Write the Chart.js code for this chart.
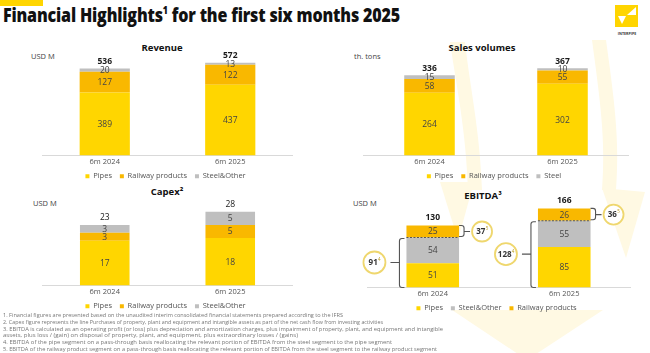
<!DOCTYPE html>
<html><head><meta charset="utf-8">
<script src="https://cdn.jsdelivr.net/npm/chart.js@4.4.1/dist/chart.umd.min.js"></script>
<style>
html,body{margin:0;padding:0;background:#fff;}
body{width:650px;height:353px;position:relative;overflow:hidden;font-family:"Open Sans","Noto Sans",sans-serif;color:#222;}
.abs{position:absolute;white-space:nowrap;}
.c{transform:translate(-50%,-50%);}
.ctitle{font-weight:700;font-size:9.5px;color:#111;}
.unit{font-size:7.5px;color:#444;}
.fn{position:absolute;left:3px;font-size:5.2px;color:#777;white-space:nowrap;transform-origin:0 0;line-height:6px;}
canvas{position:absolute;}
</style></head>
<body>
<svg class="abs" style="left:0;top:0" width="650" height="353">
  <g fill="#FFF9E3">
    <path d="M450,42 C457,90 466,130 468,190 L482,190 C480,130 470,88 465,42 Z"/>
    <path d="M592,40 C600,100 606,140 602,190 L616,190 C620,140 614,98 606,40 Z"/>
    <path d="M440,182 L474,182 L458,240 Z"/>
    <path d="M602,188 L645,192 L626,258 Z"/>
    <path d="M452,310 L603,310 L527,360 Z"/>
  </g>
</svg>
<div class="abs" style="left:0;top:0;width:43px;height:6px;background:#FFD500"></div>
<div id="title" class="abs" style="left:3px;top:2px;font-size:18.5px;font-weight:800;color:#111;letter-spacing:-0.2px;transform-origin:0 0;">Financial Highlights<sup style="font-size:10px;vertical-align:8px;line-height:0">1</sup> for the first six months 2025</div>
<svg class="abs" style="left:615px;top:5px" width="23" height="22">
  <rect x="0" y="0" width="23" height="22" fill="#FFD500"/>
  <path d="M3,11 L11,11 L7,19 Z" fill="#fff"/>
  <path d="M12,10 L21,2 L21,10 Z" fill="#fff"/>
</svg>
<div class="abs c" style="left:627px;top:33px;font-size:3.6px;font-weight:700;color:#333;">INTERPIPE</div>

<div class="abs c ctitle" style="left:162px;top:47px;">Revenue</div>
<div class="abs c ctitle" style="left:482px;top:47px;">Sales volumes</div>
<div class="abs c ctitle" style="left:167px;top:191px;">Capex²</div>
<div class="abs c ctitle" style="left:483px;top:195px;">EBITDA³</div>
<div class="abs unit" style="left:31px;top:51px;">USD M</div>
<div class="abs unit" style="left:354px;top:51px;">th. tons</div>
<div class="abs unit" style="left:33px;top:198px;">USD M</div>
<div class="abs unit" style="left:353px;top:198px;">USD M</div>

<canvas id="rev" width="251" height="142" style="left:42px;top:48px"></canvas>
<canvas id="vol" width="266" height="142" style="left:363px;top:48px"></canvas>
<canvas id="capex" width="251" height="124" style="left:42px;top:196px"></canvas>
<canvas id="ebitda" width="295" height="126" style="left:350px;top:196px"></canvas>

<div class="fn" style="top:312px" data-w="340">1. Financial figures are presented based on the unaudited interim consolidated financial statements prepared according to the IFRS</div>
<div class="fn" style="top:319px" data-w="380">2. Capex figure represents the line Purchases of property, plant and equipment and intangible assets as part of the net cash flow from investing activities</div>
<div class="fn" style="top:325.5px" data-w="440">3. EBITDA is calculated as an operating profit (or loss) plus depreciation and amortization charges, plus impairment of property, plant, and equipment and intangible</div>
<div class="fn" style="top:332px" data-w="295">assets, plus loss / (gain) on disposal of property, plant, and equipment, plus extraordinary losses / (gains)</div>
<div class="fn" style="top:339px" data-w="389">4. EBITDA of the pipe segment on a pass-through basis reallocating the relevant portion of EBITDA from the steel segment to the pipe segment</div>
<div class="fn" style="top:346px" data-w="434">5. EBITDA of the railway product segment on a pass-through basis reallocating the relevant portion of EBITDA from the steel segment to the railway product segment</div>

<script>
// ---- data ----
const periods = ['6m 2024', '6m 2025'];

const revenuePipes = [389, 437];
const revenueRailway = [127, 122];
const revenueSteel = [20, 13];
const revenueTotals = [536, 572];

const volumePipes = [264, 302];
const volumeRailway = [58, 55];
const volumeSteel = [15, 10];
const volumeTotals = [336, 367];

const capexPipes = [17, 18];
const capexRailway = [3, 5];
const capexSteel = [3, 5];
const capexTotals = [23, 28];

const ebitdaPipes = [51, 85];
const ebitdaSteel = [54, 55];
const ebitdaRailway = [25, 26];
const ebitdaTotals = [130, 166];
const ebitdaPipesPassThrough = [91, 128];
const ebitdaRailwayPassThrough = [37, 36];

// ---- styles ----
const C_PIPES = '#FFD600', C_RAIL = '#F9B800', C_STEEL = '#BFBFBF';
const FONT = '"Open Sans", "Noto Sans", sans-serif';

const segLabels = {
  id: 'segLabels',
  afterDatasetsDraw(chart, args, opts) {
    const ctx = chart.ctx;
    ctx.save();
    ctx.textAlign = 'center'; ctx.textBaseline = 'middle';
    ctx.font = `${opts.size}px ${FONT}`;
    ctx.fillStyle = '#444';
    chart.data.datasets.forEach((ds, d) => {
      chart.getDatasetMeta(d).data.forEach((el, i) => {
        ctx.fillText(String(ds.data[i]), el.x, (el.y + el.base) / 2 + 0.5);
      });
    });
    if (opts.totals) {
      ctx.font = `${opts.bold ? 'bold ' : ''}${opts.size}px ${FONT}`;
      ctx.fillStyle = '#1a1a1a';
      const last = chart.getDatasetMeta(chart.data.datasets.length - 1);
      last.data.forEach((el, i) => ctx.fillText(String(opts.totals[i]), el.x, el.y - opts.gap));
    }
    ctx.restore();
  }
};

function circleLabel(ctx, x, y, r, value, sup) {
  ctx.save();
  ctx.beginPath(); ctx.arc(x, y, r, 0, Math.PI * 2);
  ctx.fillStyle = '#fff'; ctx.fill();
  ctx.lineWidth = 1.8; ctx.strokeStyle = '#EFD76E'; ctx.stroke();
  ctx.font = `bold 8px ${FONT}`;
  const w1 = ctx.measureText(String(value)).width;
  ctx.font = `4.5px ${FONT}`;
  const w2 = ctx.measureText(sup).width;
  const x0 = x - (w1 + w2) / 2;
  ctx.textBaseline = 'middle'; ctx.textAlign = 'left';
  ctx.fillStyle = '#333';
  ctx.font = `bold 8px ${FONT}`;
  ctx.fillText(String(value), x0, y + 0.5);
  ctx.fillStyle = '#B89A20';
  ctx.font = `4.5px ${FONT}`;
  ctx.fillText(sup, x0 + w1 + 0.3, y - 2.5);
  ctx.restore();
}

const brackets = {
  id: 'brackets',
  afterDatasetsDraw(chart, args, opts) {
    const ctx = chart.ctx;
    const pipes = chart.getDatasetMeta(0), rail = chart.getDatasetMeta(2);
    pipes.data.forEach((pEl, i) => {
      const rEl = rail.data[i];
      const half = rEl.width / 2;
      const left = rEl.x - half, right = rEl.x + half;
      const yDiv = rEl.base, yTop = rEl.y, yBot = pEl.base;
      ctx.save();
      ctx.strokeStyle = '#555'; ctx.lineWidth = 1.1;
      ctx.setLineDash([2, 1.5]);
      ctx.beginPath(); ctx.moveTo(left, yDiv); ctx.lineTo(right, yDiv); ctx.stroke();
      ctx.setLineDash([]);
      const bx = left - 7, ym = (yDiv + yBot) / 2;
      ctx.beginPath();
      ctx.moveTo(bx + 5, yDiv + 1);
      ctx.arcTo(bx, yDiv + 1, bx, yDiv + 6, 2.5);
      ctx.lineTo(bx, yBot - 2.5);
      ctx.arcTo(bx, yBot, bx + 5, yBot, 2.5);
      ctx.lineTo(bx + 5, yBot);
      ctx.moveTo(bx, ym); ctx.lineTo(bx - 9, ym);
      ctx.stroke();
      circleLabel(ctx, bx - 25, ym, 11, opts.pipes[i], '4');
      const rx = right + 5, ym2 = (yTop + yDiv) / 2;
      ctx.beginPath();
      ctx.moveTo(rx - 5, yTop);
      ctx.arcTo(rx, yTop, rx, yTop + 5, 2.5);
      ctx.lineTo(rx, yDiv - 3.5);
      ctx.arcTo(rx, yDiv - 1, rx - 5, yDiv - 1, 2.5);
      ctx.lineTo(rx - 5, yDiv - 1);
      ctx.moveTo(rx, ym2); ctx.lineTo(rx + 6, ym2);
      ctx.stroke();
      circleLabel(ctx, rx + 18, ym2, 10, opts.rail[i], '5');
      ctx.restore();
    });
  }
};

function makeChart(id, datasets, yMax, barPct, segOpts, extra) {
  const plugins = [segLabels];
  if (extra) plugins.push(brackets);
  return new Chart(document.getElementById(id), {
    type: 'bar',
    data: { labels: periods, datasets },
    plugins,
    options: {
      responsive: false, animation: false,
      layout: { padding: extra ? { left: 17, right: 15 } : 0 },
      scales: {
        x: {
          stacked: true,
          grid: { display: false, drawTicks: false },
          border: { display: true, color: '#D9D9D9', width: 1 },
          ticks: { color: '#555', font: { size: 7.5, family: FONT }, padding: 2 }
        },
        y: { stacked: true, display: false, min: 0, max: yMax }
      },
      datasets: { bar: { barPercentage: barPct, categoryPercentage: 1 } },
      plugins: {
        tooltip: { enabled: false },
        legend: {
          position: 'bottom',
          labels: {
            boxWidth: 4, boxHeight: 4, padding: 4, color: '#555',
            font: { size: 7.5, family: FONT },
            generateLabels(chart) {
              const items = Chart.defaults.plugins.legend.labels.generateLabels(chart);
              items.forEach(it => { it.text = it.text + '  '; it.lineWidth = 0; });
              return items;
            }
          }
        },
        segLabels: segOpts,
        brackets: extra || {}
      }
    }
  });
}

makeChart('rev', [
  { label: 'Pipes', data: revenuePipes, backgroundColor: C_PIPES },
  { label: 'Railway products', data: revenueRailway, backgroundColor: C_RAIL },
  { label: 'Steel&Other', data: revenueSteel, backgroundColor: C_STEEL }
], 663, 0.4, { size: 8.5, totals: revenueTotals, bold: true, gap: 7 });

makeChart('vol', [
  { label: 'Pipes', data: volumePipes, backgroundColor: C_PIPES },
  { label: 'Railway products', data: volumeRailway, backgroundColor: C_RAIL },
  { label: 'Steel', data: volumeSteel, backgroundColor: C_STEEL }
], 452, 0.38, { size: 8.5, totals: volumeTotals, bold: true, gap: 7 });

makeChart('capex', [
  { label: 'Pipes', data: capexPipes, backgroundColor: C_PIPES },
  { label: 'Railway products', data: capexRailway, backgroundColor: C_RAIL },
  { label: 'Steel&Other', data: capexSteel, backgroundColor: C_STEEL }
], 34, 0.395, { size: 8.5, totals: capexTotals, bold: false, gap: 7 });

makeChart('ebitda', [
  { label: 'Pipes', data: ebitdaPipes, backgroundColor: C_PIPES },
  { label: 'Steel&Other', data: ebitdaSteel, backgroundColor: C_STEEL },
  { label: 'Railway products', data: ebitdaRailway, backgroundColor: C_RAIL }
], 192, 0.4, { size: 8.5, totals: ebitdaTotals, bold: true, gap: 8 },
{ pipes: ebitdaPipesPassThrough, rail: ebitdaRailwayPassThrough });

function fit(el, w) {
  const r = el.getBoundingClientRect().width;
  if (r > 0) el.style.transform = `scaleX(${w / r})`;
}
fit(document.getElementById('title'), 397);
document.querySelectorAll('.fn').forEach(el => fit(el, +el.dataset.w));
</script>
</body></html>
